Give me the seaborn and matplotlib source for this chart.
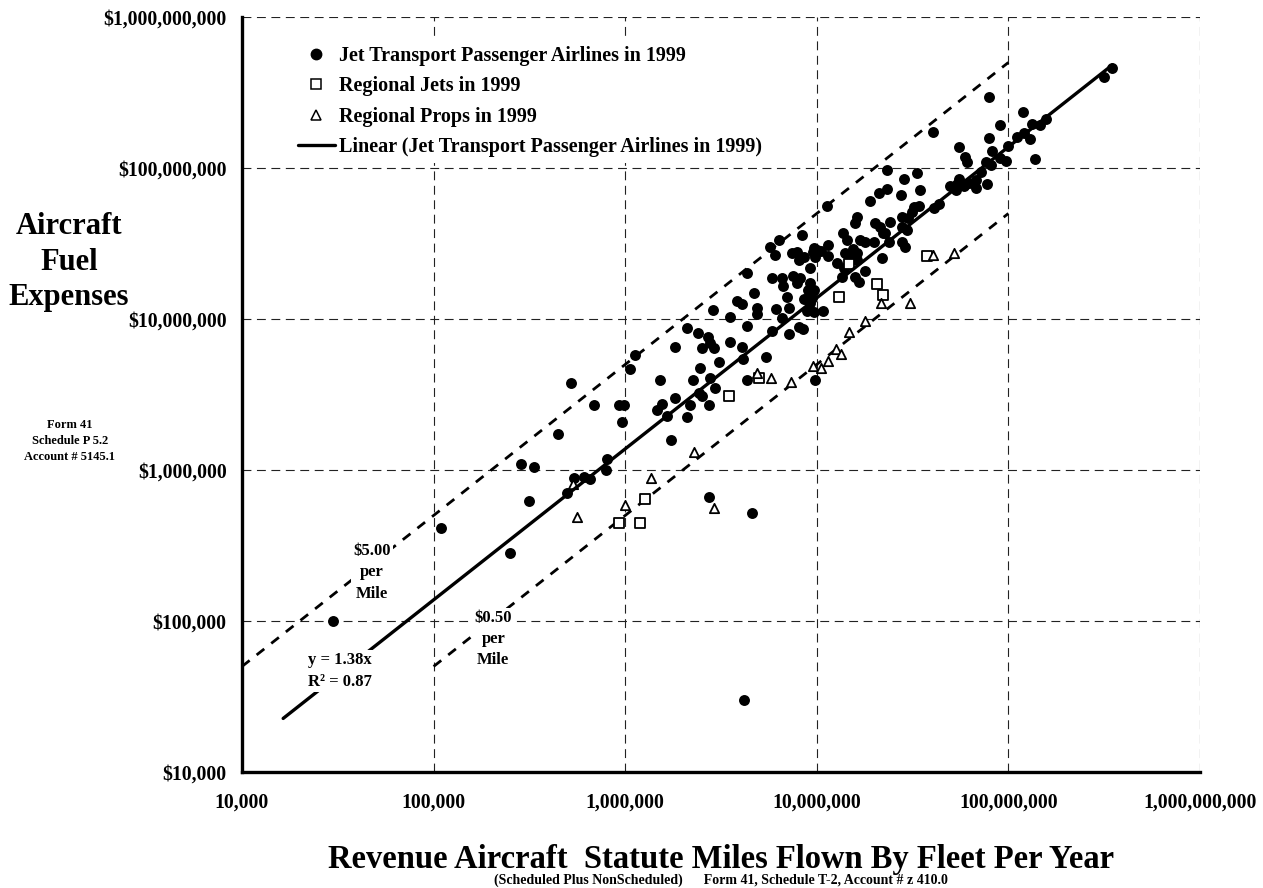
import matplotlib
matplotlib.use("Agg")
import matplotlib.pyplot as plt
import seaborn as sns
from matplotlib.lines import Line2D
from matplotlib.ticker import FixedLocator, NullLocator

# Jet Transport Passenger Airlines in 1999 (miles flown, fuel expense $)
jet_miles = [
    3.0e4, 2.5e5, 1.09e5, 3.13e5, 2.86e5, 3.35e5, 4.44e5, 5.2e5, 6.84e5, 9.23e5,
    9.8e5, 9.68e5, 1.06e6, 1.13e6, 4.96e5, 5.42e5, 6.07e5, 6.57e5, 7.93e5, 8.02e5,
    1.52e6, 1.82e6, 1.46e6, 1.55e6, 1.65e6, 1.73e6, 2.11e6, 2.18e6, 2.27e6, 2.46e6,
    2.52e6, 2.39e6, 2.72e6, 2.78e6, 2.89e6, 2.42e6, 2.52e6, 2.75e6, 2.78e6, 2.95e6,
    3.07e6, 2.75e6, 4.59e6, 4.18e6, 1.82e6, 2.11e6, 4.33e6, 5.45e6, 9.82e6, 4.1e6,
    3.48e8, 3.15e8, 7.89e7, 1.19e8, 4.04e7, 9.0e7, 1.32e8, 1.46e8, 1.58e8, 1.11e8,
    1.21e8, 1.29e8, 1.37e8, 1.0e8, 7.89e7, 8.2e7, 9.0e7, 9.77e7, 7.67e7, 8.1e7,
    5.5e7, 5.96e7, 6.08e7, 7.23e7, 7.73e7, 6.81e7, 6.81e7, 6.2e7, 5.83e7, 5.39e7,
    5.35e7, 4.98e7, 5.51e7, 4.33e7, 4.08e7, 3.44e7, 3.33e7, 2.76e7, 2.84e7, 2.32e7,
    2.32e7, 2.1e7, 1.9e7, 3.2e7, 3.4e7, 3.14e7, 3.01e7, 2.78e7, 2.96e7, 2.78e7,
    2.78e7, 2.9e7, 2.42e7, 2.28e7, 2.37e7, 2.02e7, 2.15e7, 2.22e7, 1.98e7, 2.19e7,
    1.62e7, 1.59e7, 1.69e7, 1.79e7, 1.55e7, 1.62e7, 1.62e7, 1.37e7, 1.44e7, 1.41e7,
    1.5e7, 1.15e7, 1.15e7, 1.27e7, 1.38e7, 1.35e7, 1.58e7, 1.67e7, 1.79e7, 1.13e7,
    9.55e6, 9.8e6, 9.25e6, 8.36e6, 7.41e6, 7.87e6, 8.53e6, 8.04e6, 9.62e6, 1.0e7,
    7.55e6, 8.2e6, 7.87e6, 9.25e6, 9.62e6, 9.43e6, 8.95e6, 8.53e6, 8.89e6, 9.62e6,
    9.25e6, 1.08e7, 6.56e6, 6.7e6, 5.83e6, 6.98e6, 7.13e6, 6.56e6, 6.14e6, 5.83e6,
    7.13e6, 4.68e6, 4.32e6, 3.83e6, 4.06e6, 3.53e6, 4.32e6, 4.86e6, 4.86e6, 2.86e6,
    3.53e6, 4.06e6, 6.37e6, 5.71e6, 6.07e6, 8.04e6, 8.47e6, 1.05e7,
]
jet_fuel = [
    1.0e5, 2.8e5, 4.1e5, 6.2e5, 1.10e6, 1.04e6, 1.72e6, 3.75e6, 2.71e6, 2.69e6,
    2.69e6, 2.08e6, 4.65e6, 5.78e6, 7.0e5, 8.8e5, 9.0e5, 8.7e5, 1.0e6, 1.19e6,
    3.94e6, 6.56e6, 2.49e6, 2.73e6, 2.29e6, 1.58e6, 2.26e6, 2.71e6, 3.94e6, 4.71e6,
    6.4e6, 8.04e6, 7.64e6, 6.9e6, 6.4e6, 3.22e6, 3.09e6, 2.69e6, 4.05e6, 3.47e6,
    5.21e6, 6.66e5, 5.17e5, 3.0e4, 2.99e6, 8.75e6, 3.94e6, 5.57e6, 3.94e6, 5.4e6,
    4.57e8, 4.03e8, 2.97e8, 2.36e8, 1.74e8, 1.93e8, 1.95e8, 1.93e8, 2.1e8, 1.6e8,
    1.71e8, 1.55e8, 1.15e8, 1.4e8, 1.57e8, 1.3e8, 1.16e8, 1.12e8, 1.09e8, 1.05e8,
    1.37e8, 1.18e8, 1.1e8, 9.46e7, 7.83e7, 8.34e7, 7.35e7, 8.0e7, 7.6e7, 7.83e7,
    7.15e7, 7.6e7, 8.42e7, 5.78e7, 5.41e7, 7.14e7, 9.31e7, 6.62e7, 8.45e7, 9.7e7,
    7.23e7, 6.86e7, 6.07e7, 5.55e7, 5.6e7, 5.14e7, 4.65e7, 4.71e7, 3.88e7, 4.08e7,
    3.25e7, 3.01e7, 4.41e7, 3.69e7, 3.25e7, 4.3e7, 4.08e7, 3.69e7, 3.25e7, 2.52e7,
    4.77e7, 4.3e7, 3.33e7, 3.25e7, 2.91e7, 2.72e7, 2.46e7, 3.69e7, 3.33e7, 2.72e7,
    2.59e7, 3.09e7, 2.61e7, 2.36e7, 2.17e7, 1.89e7, 1.91e7, 1.77e7, 2.09e7, 5.6e7,
    2.79e7, 2.59e7, 2.17e7, 3.6e7, 2.72e7, 2.79e7, 2.59e7, 2.46e7, 2.94e7, 2.86e7,
    1.93e7, 1.86e7, 1.72e7, 1.74e7, 1.56e7, 1.37e7, 1.56e7, 1.35e7, 1.13e7, 1.12e7,
    1.27e7, 1.13e7, 1.86e7, 1.66e7, 1.86e7, 1.39e7, 1.18e7, 1.01e7, 1.16e7, 8.38e6,
    7.96e6, 1.48e7, 2.01e7, 1.32e7, 1.26e7, 1.03e7, 9.0e6, 1.18e7, 1.08e7, 1.15e7,
    7.08e6, 6.56e6, 3.34e7, 3.01e7, 2.65e7, 8.89e6, 8.59e6, 2.8e7,
]

# Regional Jets in 1999
rj_miles = [9.23e5, 1.20e6, 1.27e6, 3.49e6, 5.01e6, 1.30e7, 1.48e7, 2.06e7, 2.22e7, 3.76e7]
rj_fuel = [4.44e5, 4.44e5, 6.4e5, 3.09e6, 4.08e6, 1.39e7, 2.31e7, 1.71e7, 1.44e7, 2.61e7]

# Regional Props in 1999
rp_miles = [5.6e5, 5.33e5, 9.93e5, 1.37e6, 2.92e6, 2.29e6, 4.86e6, 5.78e6, 7.33e6, 9.5e6,
            1.05e7, 1.15e7, 1.26e7, 1.33e7, 1.47e7, 1.79e7, 2.17e7, 3.05e7, 4.03e7, 5.18e7]
rp_fuel = [4.91e5, 8.07e5, 5.86e5, 8.89e5, 5.57e5, 1.32e6, 4.41e6, 4.08e6, 3.85e6, 4.89e6,
           4.72e6, 5.29e6, 6.3e6, 5.86e6, 8.24e6, 9.75e6, 1.28e7, 1.28e7, 2.65e7, 2.75e7]

# trend line (y = 1.38x) and cost-per-mile guides
slope = 1.38
trend_x = [1.64e4, 3.49e8]
high_rate, high_x = 5.00, [1e4, 1e8]
low_rate, low_x = 0.50, [1e5, 1e8]

decades = [1e4, 1e5, 1e6, 1e7, 1e8, 1e9]

sns.set_theme(style="white", rc={'text.color': 'black', 'axes.labelcolor': 'black',
                                 'xtick.color': 'black', 'ytick.color': 'black'})
plt.rcParams['font.family'] = ['Liberation Serif', 'DejaVu Serif']
plt.rcParams['font.weight'] = 'bold'

fig = plt.figure(figsize=(12.63, 8.88), dpi=100)
ax = fig.add_axes([242 / 1263, 1 - 772 / 888, 958 / 1263, 755 / 888])
ax.set_xscale('log')
ax.set_yscale('log')

jet_label = 'Jet Transport Passenger Airlines in 1999'
sns.scatterplot(x=jet_miles, y=jet_fuel, ax=ax, marker='o', s=62, color='black',
                linewidth=0, zorder=3, legend=False)
sns.scatterplot(x=rj_miles, y=rj_fuel, ax=ax, marker='s', s=42, color='white',
                edgecolor='black', linewidth=1.3, zorder=3, legend=False)
sns.scatterplot(x=rp_miles, y=rp_fuel, ax=ax, marker='^', s=45, color='white',
                edgecolor='black', linewidth=1.3, zorder=3, legend=False)
sns.lineplot(x=trend_x, y=[slope * v for v in trend_x], ax=ax, color='black',
             linewidth=2.4, zorder=4)

ax.plot(high_x, [high_rate * v for v in high_x], color='black', lw=2.0,
        dashes=(3.5, 3.2), zorder=2)
ax.plot(low_x, [low_rate * v for v in low_x], color='black', lw=2.0,
        dashes=(3.5, 3.2), zorder=2)

ax.set_xlim(1e4, 1e9)
ax.set_ylim(1e4, 1e9)

ax.xaxis.set_major_locator(FixedLocator(decades))
ax.yaxis.set_major_locator(FixedLocator(decades))
ax.xaxis.set_minor_locator(NullLocator())
ax.yaxis.set_minor_locator(NullLocator())
ax.set_xticklabels([f"{int(v):,}" for v in decades])
ax.set_yticklabels([f"${int(v):,}" for v in decades])
ax.tick_params(axis='both', which='major', direction='in', length=5, width=2,
               color='black', labelsize=14.2, labelcolor='black')
ax.tick_params(axis='x', pad=15)
ax.tick_params(axis='y', pad=11)
for lab in ax.get_xticklabels() + ax.get_yticklabels():
    lab.set_fontweight('bold')

ax.grid(True, color='#222222', linestyle=(0, (8, 5)), linewidth=0.8, zorder=0)
ax.set_axisbelow(True)
for side in ['top', 'right']:
    ax.spines[side].set_visible(False)
for side in ['left', 'bottom']:
    ax.spines[side].set_color('black')
    ax.spines[side].set_linewidth(2.4)
ax.set_facecolor('white')

box = dict(facecolor='white', edgecolor='none', pad=1.5)
ax.text(4.78e4, 2.1e5, "$5.00\nper\nMile", ha='center', va='center', fontsize=12,
        fontweight='bold', linespacing=1.45, bbox=box, zorder=5)
ax.text(2.05e5, 7.6e4, "$0.50\nper\nMile", ha='center', va='center', fontsize=12,
        fontweight='bold', linespacing=1.45, bbox=box, zorder=5)
ax.text(3.25e4, 4.67e4, "y = 1.38x\nR\u00b2 = 0.87", ha='center', va='center',
        fontsize=12, fontweight='bold', linespacing=1.45, bbox=box, zorder=5)

handles = [
    Line2D([], [], marker='o', color='black', linestyle='none', markersize=7.5),
    Line2D([], [], marker='s', markerfacecolor='white', markeredgecolor='black',
           markeredgewidth=1.1, linestyle='none', markersize=6.5),
    Line2D([], [], marker='^', markerfacecolor='white', markeredgecolor='black',
           markeredgewidth=1.1, linestyle='none', markersize=6.5),
    Line2D([], [], color='black', linewidth=2.4),
]
labels = [jet_label, 'Regional Jets in 1999', 'Regional Props in 1999',
          'Linear (Jet Transport Passenger Airlines in 1999)']
leg = ax.legend(handles, labels, loc='upper left', bbox_to_anchor=(0.042, 0.983),
                frameon=True, facecolor='white', edgecolor='none', framealpha=1,
                fancybox=False,
                prop={'family': 'Liberation Serif', 'weight': 'bold', 'size': 14.5},
                labelspacing=0.52, handlelength=1.8, handletextpad=0.2, borderpad=0.3)
leg.set_zorder(6)

fig.text(69 / 1263, 1 - 262 / 888, "Aircraft\nFuel\nExpenses", ha='center', va='center',
         fontsize=22, fontweight='bold', linespacing=1.3)
fig.text(70 / 1263, 1 - 441 / 888, "Form 41\nSchedule P 5.2\nAccount # 5145.1",
         ha='center', va='center', fontsize=9, fontweight='bold', linespacing=1.45)
fig.text(721 / 1263, 1 - 859 / 888,
         "Revenue Aircraft  Statute Miles Flown By Fleet Per Year",
         ha='center', va='center', fontsize=23.5, fontweight='bold')
fig.text(721 / 1263, 1 - 880 / 888,
         "(Scheduled Plus NonScheduled)      Form 41, Schedule T-2, Account # z 410.0",
         ha='center', va='center', fontsize=10, fontweight='bold')

fig.savefig('out.png', dpi=100, facecolor='white')
